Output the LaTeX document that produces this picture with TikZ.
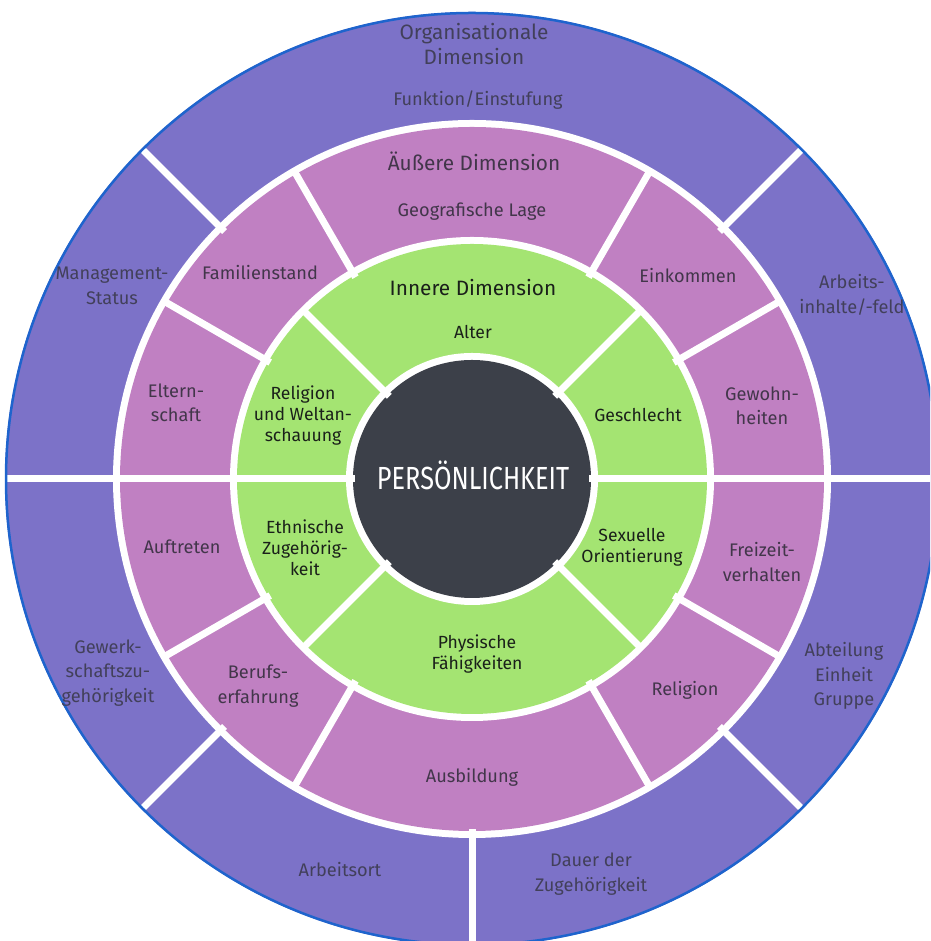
\documentclass[tikz,border=0pt]{standalone}
\usepackage{fontspec}
\setmainfont{Fira Sans}
\definecolor{outerc}{RGB}{124,114,200}
\definecolor{edgec}{RGB}{30,100,205}
\definecolor{pinkc}{RGB}{192,128,194}
\definecolor{greenc}{RGB}{164,228,114}
\definecolor{darkc}{RGB}{60,64,73}
\definecolor{txtouter}{RGB}{66,64,90}
\definecolor{txtpink}{RGB}{66,54,74}
\definecolor{txtgreen}{RGB}{26,32,26}
\tikzset{
  divider/.style={white, line width=7pt},
  lbl/.style={align=center, inner sep=0pt, font=\fontsize{18.2}{24.5}\selectfont},
  hdr/.style={align=center, inner sep=0pt, font=\fontsize{20.8}{25}\selectfont},
  olbl/.style={lbl, text=txtouter},
  plbl/.style={lbl, text=txtpink},
  glbl/.style={lbl, text=txtgreen, font=\fontsize{17.6}{21}\selectfont},
}
\begin{document}
\begin{tikzpicture}[x=1pt,y=1pt]
\useasboundingbox (0,0) rectangle (930,941);
\clip (0,0) rectangle (930,941);
\fill[white] (0,0) rectangle (930,941);
\coordinate (c) at (472,462);
\begin{scope}[shift={(c)}]
  \fill[outerc] (0,0) circle[radius=467pt];
  \fill[white] (0,0) circle[radius=359pt];
  \fill[pinkc] (0,0) circle[radius=352pt];
  \fill[white] (0,0) circle[radius=242pt];
  \fill[greenc] (0,0) circle[radius=235pt];
  \fill[white] (0,0) circle[radius=126pt];
  \fill[darkc] (0,0) circle[radius=119pt];
  \foreach \a in {0,45,135,180,225,270,315}
    \draw[divider] (\a:350) -- (\a:466);
  \foreach \a in {0,30,60,120,150,180,210,240,300,330}
    \draw[divider] (\a:233) -- (\a:356);
  \foreach \a in {0,45,135,180,225,315}
    \draw[divider] (\a:117) -- (\a:240);
  \draw[edgec, line width=2.5pt] (0,0) circle[radius=466pt];
\end{scope}
% outer ring
\node[hdr, text=txtouter] (org) at (474,896.5) {Organisationale\\Dimension};
\node[olbl] (funk) at (478,841) {Funktion/Einstufung};
\node[olbl] (mgmt) at (112,655) {Management-\\Status};
\node[olbl] (arbinh) at (852,646) {Arbeits-\\inhalte/-feld};
\node[olbl] (gewerk) at (108,268) {Gewerk-\\schaftszu-\\gehörigkeit};
\node[olbl] (abt) at (844,265) {Abteilung\\Einheit\\Gruppe};
\node[olbl] (arbort) at (340,71) {Arbeitsort};
\node[olbl] (dauer) at (591,67) {Dauer der\\Zugehörigkeit};
% pink ring
\node[hdr, text=txtpink] (aeuss) at (474,780) {Äußere Dimension};
\node[plbl] (geo) at (472,729) {Geografische Lage};
\node[plbl] (fam) at (260,668) {Familienstand};
\node[plbl] (eink) at (688,665) {Einkommen};
\node[plbl] (eltern) at (176,538) {Eltern-\\schaft};
\node[plbl] (gewohn) at (762,535) {Gewohn-\\heiten};
\node[plbl] (auftr) at (182,394) {Auftreten};
\node[plbl] (freiz) at (762,379) {Freizeit-\\verhalten};
\node[plbl] (beruf) at (258,255) {Berufs-\\erfahrung};
\node[plbl] (relig) at (685,251) {Religion};
\node[plbl] (ausb) at (472,164) {Ausbildung};
% green ring
\node[hdr, text=txtgreen] (inner) at (473,653) {Innere Dimension};
\node[glbl] (alter) at (473,609) {Alter};
\node[glbl] (relw) at (303,525) {Religion\\und Weltan-\\schauung};
\node[glbl] (geschl) at (638,526) {Geschlecht};
\node[glbl] (ethn) at (305,393) {Ethnische\\Zugehörig-\\keit};
\node[glbl] (sex) at (632,394) {Sexuelle\\Orientierung};
\node[glbl] (phys) at (477,287) {Physische\\Fähigkeiten};
% center
\node[inner sep=0pt, text=white, font=\fontsize{32}{33}\selectfont] (pers) at (473,466) {\scalebox{0.79}[1]{PERSÖNLICHKEIT}};
\end{tikzpicture}
\end{document}
